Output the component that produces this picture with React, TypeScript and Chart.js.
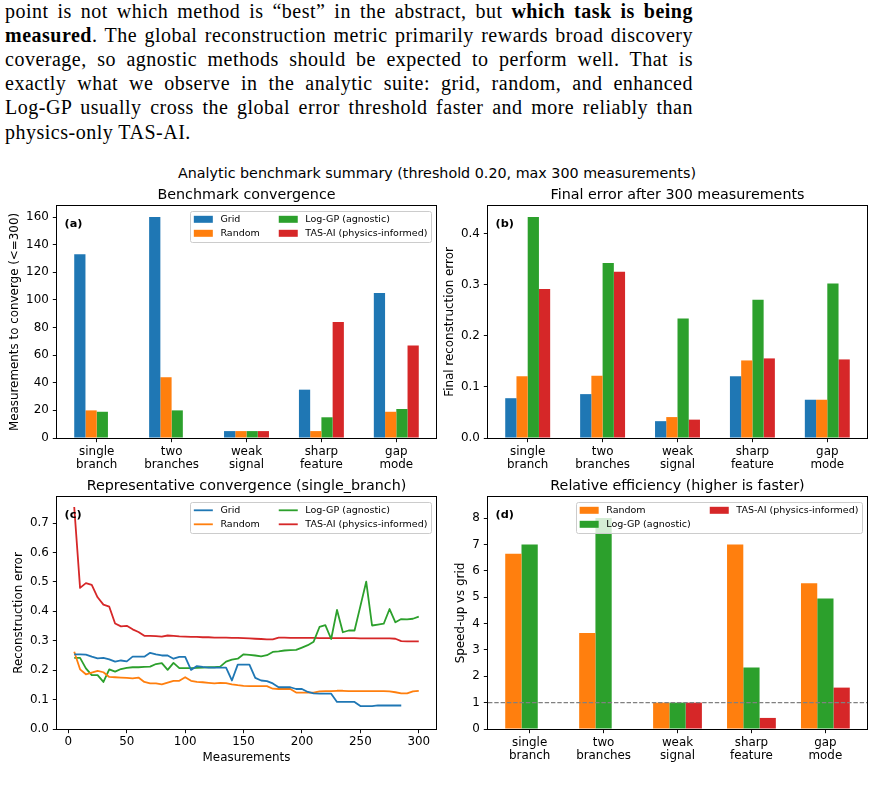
import React, { useEffect, useRef } from "react";
import { Chart, registerables } from "chart.js";

Chart.register(...registerables);

const SANS = "'DejaVu Sans', Verdana, sans-serif";
const SERIF = "'Liberation Serif', 'Times New Roman', serif";

// ---- data -------------------------------------------------------------
const benchmarkLabels = [
  ["single", "branch"],
  ["two", "branches"],
  ["weak", "signal"],
  ["sharp", "feature"],
  ["gap", "mode"],
];

const methodLabels = ["Grid", "Random", "Log-GP (agnostic)", "TAS-AI (physics-informed)"];
const methodColors = ["#1f77b4", "#ff7f0e", "#2ca02c", "#d62728"];

// (a) measurements needed to reach the error threshold (null = never converged)
const convGrid = [133, 160, 5, 35, 105];
const convRandom = [20, 44, 5, 5, 19];
const convLogGP = [19, 20, 5, 15, 21];
const convTasAI = [null, null, 5, 84, 67];

// (b) final reconstruction error after 300 measurements
const errGrid = [0.078, 0.086, 0.033, 0.121, 0.075];
const errRandom = [0.121, 0.122, 0.041, 0.152, 0.075];
const errLogGP = [0.433, 0.343, 0.234, 0.271, 0.303];
const errTasAI = [0.292, 0.326, 0.036, 0.156, 0.154];

// (d) speed-up relative to grid sampling
const speedRandom = [6.65, 3.64, 1.0, 7.0, 5.53];
const speedLogGP = [7.0, 8.0, 1.0, 2.33, 4.95];
const speedTasAI = [null, null, 1.0, 0.42, 1.57];
const parityLevel = 1;

// (c) error curves for the single_branch benchmark
const measurements = [
  5, 10, 15, 20, 25, 30, 35, 40, 45, 50, 55, 60, 65, 70, 75, 80, 85, 90, 95, 100,
  105, 110, 115, 120, 125, 130, 135, 140, 145, 150, 155, 160, 165, 170, 175, 180, 185, 190, 195, 200,
  205, 210, 215, 220, 225, 230, 235, 240, 245, 250, 255, 260, 265, 270, 275, 280, 285, 290, 295, 300,
];
const curveGrid = [
  0.254, 0.254, 0.253, 0.246, 0.24, 0.242, 0.237, 0.229, 0.233, 0.23, 0.246, 0.246, 0.246, 0.259, 0.254, 0.25, 0.25, 0.239, 0.245, 0.245,
  0.201, 0.214, 0.211, 0.209, 0.209, 0.209, 0.209, 0.165, 0.219, 0.219, 0.219, 0.174, 0.165, 0.163, 0.155, 0.142, 0.142, 0.142, 0.136, 0.136,
  0.126, 0.121, 0.12, 0.12, 0.12, 0.092, 0.092, 0.092, 0.092, 0.078, 0.078, 0.078, 0.08, 0.08, 0.08, 0.08, 0.08,
];
const curveRandom = [
  0.263, 0.203, 0.186, 0.192, 0.198, 0.193, 0.177, 0.176, 0.175, 0.174, 0.172, 0.175, 0.16, 0.155, 0.155, 0.152, 0.158, 0.164, 0.164, 0.176,
  0.164, 0.16, 0.159, 0.157, 0.155, 0.157, 0.156, 0.152, 0.149, 0.147, 0.146, 0.146, 0.146, 0.146, 0.137, 0.136, 0.136, 0.136, 0.124, 0.124,
  0.124, 0.124, 0.128, 0.129, 0.129, 0.13, 0.13, 0.129, 0.129, 0.129, 0.129, 0.129, 0.129, 0.129, 0.128, 0.125, 0.121, 0.121, 0.128, 0.13,
];
const curveLogGP = [
  0.242, 0.242, 0.206, 0.183, 0.183, 0.16, 0.203, 0.195, 0.204, 0.208, 0.21, 0.21, 0.211, 0.212, 0.221, 0.224, 0.201, 0.225, 0.207, 0.207,
  0.207, 0.208, 0.209, 0.21, 0.21, 0.212, 0.229, 0.236, 0.239, 0.254, 0.252, 0.25, 0.247, 0.251, 0.262, 0.264, 0.267, 0.268, 0.269, 0.277,
  0.285, 0.297, 0.347, 0.353, 0.306, 0.405, 0.329, 0.335, 0.335, 0.418, 0.501, 0.352, 0.355, 0.358, 0.408, 0.363, 0.374, 0.373, 0.375, 0.382,
];
const curveTasAI = [
  0.755, 0.48, 0.496, 0.49, 0.448, 0.423, 0.416, 0.359, 0.349, 0.351, 0.339, 0.33, 0.317, 0.317, 0.316, 0.314, 0.318, 0.317, 0.315, 0.314,
  0.313, 0.313, 0.312, 0.312, 0.311, 0.311, 0.311, 0.31, 0.31, 0.309, 0.308, 0.307, 0.306, 0.305, 0.305, 0.311, 0.311, 0.31, 0.31, 0.31,
  0.31, 0.31, 0.309, 0.309, 0.309, 0.309, 0.309, 0.309, 0.309, 0.308, 0.308, 0.308, 0.308, 0.308, 0.308, 0.307, 0.299, 0.298, 0.298, 0.298,
];

// tick positions
const convTicks = [0, 20, 40, 60, 80, 100, 120, 140, 160];
const errTicks = [0, 0.1, 0.2, 0.3, 0.4];
const curveYTicks = [0, 0.1, 0.2, 0.3, 0.4, 0.5, 0.6, 0.7];
const curveXTicks = [0, 50, 100, 150, 200, 250, 300];
const speedTicks = [0, 1, 2, 3, 4, 5, 6, 7, 8];

// ---- layout helpers -----------------------------------------------------
type Rect = { left: number; top: number; width: number; height: number };
type Inset = { left: number; top: number; right: number; bottom: number };

const tickFont = { family: SANS, size: 11.9 };
const catTickFont = { family: SANS, size: 11.9, lineHeight: "13.3px" };
const axisTitleFont = { family: SANS, size: 11.9, lineHeight: 1.2 };
const tickMarks = {
  drawOnChartArea: false,
  drawTicks: true,
  tickLength: 4.2,
  tickWidth: 0.95,
  tickColor: "#000",
  offset: false,
};

function frame(box: Rect, area: Inset) {
  return {
    padding: { left: 0, top: area.top, right: box.width - area.right, bottom: 0 },
    xFit: (s: any) => {
      s.height = box.height - area.bottom;
    },
    yFit: (s: any) => {
      s.width = area.left;
    },
  };
}

function fixedTicks(values: number[]) {
  return (scale: any) => {
    scale.ticks = values.map((value) => ({ value }));
  };
}

// Legend laid out column-first inside the upper-right corner of the axes.
function drawKey(ctx: CanvasRenderingContext2D, a: any, chart: any, ncol: number, kind: string) {
  const fs = 9.5;
  const pad = 0.4 * fs;
  const rowH = fs;
  const lsp = 4.5;
  const hl = 2 * fs;
  const htp = 0.8 * fs;
  const csp = 2 * fs;
  const bap = 0.5 * fs;
  const items = chart.data.datasets
    .filter((d: any) => d.label)
    .map((d: any) => ({ label: d.label, color: d.borderColor || d.backgroundColor }));
  ctx.font = `${fs}px ${SANS}`;
  const n = items.length;
  const base = Math.floor(n / ncol);
  const extra = n % ncol;
  const cols: any[][] = [];
  let k = 0;
  for (let c = 0; c < ncol; c++) {
    const cnt = base + (c < extra ? 1 : 0);
    cols.push(items.slice(k, k + cnt));
    k += cnt;
  }
  const colW = cols.map(
    (col) => hl + htp + Math.max(...col.map((it: any) => ctx.measureText(it.label).width))
  );
  const nrows = Math.max(...cols.map((c) => c.length));
  const width = 2 * pad + colW.reduce((s, w) => s + w, 0) + csp * (ncol - 1);
  const height = 2 * pad + nrows * rowH + (nrows - 1) * lsp;
  const x0 = a.right - bap - width;
  const y0 = a.top + bap;

  ctx.beginPath();
  ctx.roundRect(Math.round(x0) + 0.5, Math.round(y0) + 0.5, Math.round(width), Math.round(height), 2);
  ctx.fillStyle = "rgba(255,255,255,0.8)";
  ctx.fill();
  ctx.strokeStyle = "#cccccc";
  ctx.lineWidth = 1;
  ctx.stroke();

  ctx.textAlign = "left";
  ctx.textBaseline = "middle";
  let cx = x0 + pad;
  cols.forEach((col, ci) => {
    col.forEach((it: any, ri: number) => {
      const cy = y0 + pad + ri * (rowH + lsp) + rowH / 2;
      if (kind === "bar") {
        ctx.fillStyle = it.color;
        ctx.fillRect(cx, cy - 3.5, hl, 7);
      } else {
        ctx.strokeStyle = it.color;
        ctx.lineWidth = 1.8;
        ctx.beginPath();
        ctx.moveTo(cx, cy);
        ctx.lineTo(cx + hl, cy);
        ctx.stroke();
      }
      ctx.fillStyle = "#000";
      ctx.fillText(it.label, cx + hl + htp, cy + 0.5);
    });
    cx += colW[ci] + csp;
  });
}

// Axes frame, panel tag, panel title and legend.
const panelDecor = {
  id: "panelDecor",
  afterDraw(chart: any, _args: any, opts: any) {
    const { ctx, chartArea: a } = chart;
    ctx.save();
    ctx.strokeStyle = "#000";
    ctx.lineWidth = 1;
    ctx.strokeRect(
      Math.round(a.left) - 0.5,
      Math.round(a.top) - 0.5,
      Math.round(a.right) - Math.round(a.left) + 1,
      Math.round(a.bottom) - Math.round(a.top) + 1
    );
    ctx.fillStyle = "#000";
    ctx.textBaseline = "alphabetic";
    ctx.textAlign = "left";
    ctx.font = `bold 11.3px ${SANS}`;
    ctx.fillText(opts.tag, a.left + 0.02 * (a.right - a.left), a.top + 0.05 * (a.bottom - a.top) + 9.2);
    ctx.textAlign = "center";
    ctx.font = `14.3px ${SANS}`;
    ctx.fillText(opts.title, (a.left + a.right) / 2, a.top - 7.1);
    if (opts.keyCols) drawKey(ctx, a, chart, opts.keyCols, opts.keyKind);
    ctx.restore();
  },
};

type BarSeries = { label: string; values: (number | null)[]; color: string };

function barChartConfig(p: {
  box: Rect;
  area: Inset;
  series: BarSeries[];
  catPct: number;
  xPad: number;
  yMax: number;
  yTicks: number[];
  yDigits: number;
  yTitle: string;
  yTitlePad: number;
  title: string;
  tag: string;
  keyCols?: number;
  refLine?: number;
}) {
  const f = frame(p.box, p.area);
  const xMax = benchmarkLabels.length - 1 + p.xPad;
  const datasets: any[] = p.series.map((s) => ({
    type: "bar",
    label: s.label,
    data: s.values.map((v, i) => ({ x: i, y: v })),
    backgroundColor: s.color,
    borderWidth: 0,
    categoryPercentage: p.catPct,
    barPercentage: 1,
  }));
  if (p.refLine !== undefined) {
    datasets.push({
      type: "line",
      label: "",
      data: [
        { x: -p.xPad, y: p.refLine },
        { x: xMax, y: p.refLine },
      ],
      borderColor: "#808080",
      borderWidth: 1.2,
      borderDash: [4.4, 1.9],
      pointRadius: 0,
      order: -1,
    });
  }
  return {
    type: "bar",
    data: { datasets },
    options: {
      responsive: false,
      animation: false,
      events: [],
      layout: { padding: f.padding },
      plugins: {
        legend: { display: false },
        tooltip: { enabled: false },
        title: { display: false },
        panelDecor: { title: p.title, tag: p.tag, keyCols: p.keyCols || 0, keyKind: "bar" },
      },
      scales: {
        x: {
          type: "linear",
          min: -p.xPad,
          max: xMax,
          offset: false,
          afterBuildTicks: fixedTicks(benchmarkLabels.map((_, i) => i)),
          afterFit: f.xFit,
          ticks: {
            callback: (v: number) => benchmarkLabels[v],
            font: catTickFont,
            color: "#000",
            padding: 3.2,
            autoSkip: false,
            maxRotation: 0,
            minRotation: 0,
          },
          grid: tickMarks,
          border: { display: false },
        },
        y: {
          type: "linear",
          min: 0,
          max: p.yMax,
          afterBuildTicks: fixedTicks(p.yTicks),
          afterFit: f.yFit,
          ticks: {
            callback: (v: number) => Number(v).toFixed(p.yDigits),
            font: tickFont,
            color: "#000",
            padding: 4,
          },
          grid: tickMarks,
          border: { display: false },
          title: {
            display: true,
            text: p.yTitle,
            font: axisTitleFont,
            color: "#000",
            padding: { top: p.yTitlePad, bottom: 0 },
          },
        },
      },
    },
    plugins: [panelDecor],
  };
}

function curveChartConfig(box: Rect, area: Inset) {
  const f = frame(box, area);
  const curves = [curveGrid, curveRandom, curveLogGP, curveTasAI];
  return {
    type: "line",
    data: {
      datasets: curves.map((c, i) => ({
        label: methodLabels[i],
        data: c.map((y, j) => ({ x: measurements[j], y })),
        borderColor: methodColors[i],
        backgroundColor: methodColors[i],
        borderWidth: 1.8,
        pointRadius: 0,
        tension: 0,
        borderJoinStyle: "round",
      })),
    },
    options: {
      responsive: false,
      animation: false,
      events: [],
      layout: { padding: f.padding },
      plugins: {
        legend: { display: false },
        tooltip: { enabled: false },
        title: { display: false },
        panelDecor: {
          title: "Representative convergence (single_branch)",
          tag: "(c)",
          keyCols: 2,
          keyKind: "line",
        },
      },
      scales: {
        x: {
          type: "linear",
          min: -9.75,
          max: 314.75,
          afterBuildTicks: fixedTicks(curveXTicks),
          afterFit: f.xFit,
          ticks: { font: tickFont, color: "#000", padding: 2, maxRotation: 0, autoSkip: false },
          grid: tickMarks,
          border: { display: false },
          title: {
            display: true,
            text: "Measurements",
            font: axisTitleFont,
            color: "#000",
            padding: { top: 0, bottom: 32.6 },
          },
        },
        y: {
          type: "linear",
          min: 0,
          max: 0.789,
          afterBuildTicks: fixedTicks(curveYTicks),
          afterFit: f.yFit,
          ticks: {
            callback: (v: number) => Number(v).toFixed(1),
            font: tickFont,
            color: "#000",
            padding: 4,
          },
          grid: tickMarks,
          border: { display: false },
          title: {
            display: true,
            text: "Reconstruction error",
            font: axisTitleFont,
            color: "#000",
            padding: { top: 11.6, bottom: 0 },
          },
        },
      },
    },
    plugins: [panelDecor],
  };
}

function ChartCanvas({ box, config }: { box: Rect; config: () => any }) {
  const ref = useRef<HTMLCanvasElement | null>(null);
  useEffect(() => {
    const chart = new Chart(ref.current as HTMLCanvasElement, config());
    return () => chart.destroy();
  }, []);
  return (
    <canvas
      ref={ref}
      width={box.width}
      height={box.height}
      style={{ position: "absolute", left: box.left, top: box.top, width: box.width, height: box.height }}
    />
  );
}

const boxA: Rect = { left: 0, top: 180, width: 440, height: 300 };
const boxB: Rect = { left: 440, top: 180, width: 434, height: 300 };
const boxC: Rect = { left: 0, top: 470, width: 440, height: 328 };
const boxD: Rect = { left: 440, top: 470, width: 434, height: 328 };

const areaA: Inset = { left: 57, top: 26, right: 436, bottom: 258 };
const areaB: Inset = { left: 48, top: 26, right: 427, bottom: 258 };
const areaC: Inset = { left: 57, top: 27, right: 436, bottom: 259 };
const areaD: Inset = { left: 48, top: 27, right: 427, bottom: 259 };

const paragraphLines: { parts: { text: string; bold?: boolean }[]; last?: boolean }[] = [
  {
    parts: [
      { text: "point is not which method is \u201cbest\u201d in the abstract, but " },
      { text: "which task is being", bold: true },
    ],
  },
  {
    parts: [
      { text: "measured", bold: true },
      { text: ". The global reconstruction metric primarily rewards broad discovery" },
    ],
  },
  { parts: [{ text: "coverage, so agnostic methods should be expected to perform well.  That is" }] },
  { parts: [{ text: "exactly what we observe in the analytic suite:  grid, random, and enhanced" }] },
  { parts: [{ text: "Log-GP usually cross the global error threshold faster and more reliably than" }] },
  { parts: [{ text: "physics-only TAS-AI." }], last: true },
];

export default function App() {
  return (
    <div
      style={{
        position: "absolute",
        left: 0,
        top: 0,
        width: 874,
        height: 798,
        background: "#fff",
        overflow: "hidden",
      }}
    >
      <div
        style={{
          position: "absolute",
          left: 5,
          top: -1.4,
          width: 688,
          fontFamily: SERIF,
          fontSize: 20,
          lineHeight: "24.2px",
          letterSpacing: "0.5px",
          color: "#000",
        }}
      >
        {paragraphLines.map((line, i) => (
          <div
            key={i}
            style={{
              textAlign: line.last ? "left" : "justify",
              textAlignLast: line.last ? "left" : "justify",
            }}
          >
            {line.parts.map((p, j) => (
              <span key={j} style={{ fontWeight: p.bold ? "bold" : "normal" }}>
                {p.text}
              </span>
            ))}
          </div>
        ))}
      </div>

      <div
        style={{
          position: "absolute",
          left: 0,
          top: 166.4,
          width: 874,
          textAlign: "center",
          fontFamily: SANS,
          fontSize: 14.3,
          lineHeight: "14.3px",
          color: "#000",
          whiteSpace: "nowrap",
        }}
      >
        Analytic benchmark summary (threshold 0.20, max 300 measurements)
      </div>

      <ChartCanvas
        box={boxA}
        config={() =>
          barChartConfig({
            box: boxA,
            area: areaA,
            series: [
              { label: methodLabels[0], values: convGrid, color: methodColors[0] },
              { label: methodLabels[1], values: convRandom, color: methodColors[1] },
              { label: methodLabels[2], values: convLogGP, color: methodColors[2] },
              { label: methodLabels[3], values: convTasAI, color: methodColors[3] },
            ],
            catPct: 0.6,
            xPad: 0.53,
            yMax: 168,
            yTicks: convTicks,
            yDigits: 0,
            yTitle: "Measurements to converge (<=300)",
            yTitlePad: 7.4,
            title: "Benchmark convergence",
            tag: "(a)",
            keyCols: 2,
          })
        }
      />
      <ChartCanvas
        box={boxB}
        config={() =>
          barChartConfig({
            box: boxB,
            area: areaB,
            series: [
              { label: methodLabels[0], values: errGrid, color: methodColors[0] },
              { label: methodLabels[1], values: errRandom, color: methodColors[1] },
              { label: methodLabels[2], values: errLogGP, color: methodColors[2] },
              { label: methodLabels[3], values: errTasAI, color: methodColors[3] },
            ],
            catPct: 0.6,
            xPad: 0.53,
            yMax: 0.4547,
            yTicks: errTicks,
            yDigits: 1,
            yTitle: "Final reconstruction error",
            yTitlePad: 2.9,
            title: "Final error after 300 measurements",
            tag: "(b)",
          })
        }
      />
      <ChartCanvas box={boxC} config={() => curveChartConfig(boxC, areaC)} />
      <ChartCanvas
        box={boxD}
        config={() =>
          barChartConfig({
            box: boxD,
            area: areaD,
            series: [
              { label: methodLabels[1], values: speedRandom, color: methodColors[1] },
              { label: methodLabels[2], values: speedLogGP, color: methodColors[2] },
              { label: methodLabels[3], values: speedTasAI, color: methodColors[3] },
            ],
            catPct: 0.66,
            xPad: 0.563,
            yMax: 8.8,
            yTicks: speedTicks,
            yDigits: 0,
            yTitle: "Speed-up vs grid",
            yTitlePad: 13.9,
            title: "Relative efficiency (higher is faster)",
            tag: "(d)",
            keyCols: 2,
            refLine: parityLevel,
          })
        }
      />
    </div>
  );
}
